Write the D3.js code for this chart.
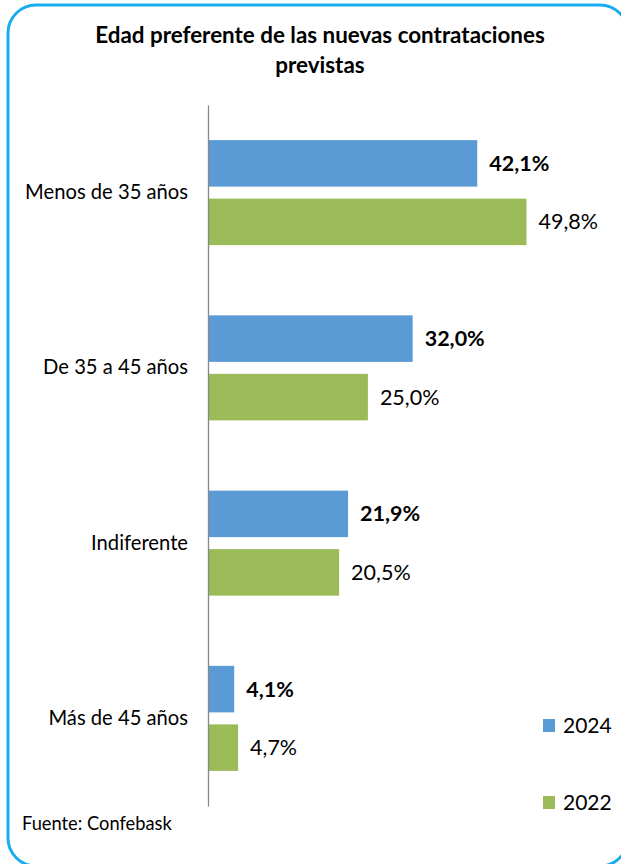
<!DOCTYPE html>
<html>
<head>
<meta charset="utf-8">
<script src="https://cdn.jsdelivr.net/npm/d3@7"></script>
<style>
  html, body { margin: 0; padding: 0; background: #fff; }
  svg { display: block; font-family: Lato, "Open Sans", sans-serif; }
</style>
</head>
<body>
<div id="chart"></div>
<script>
// Datos del gráfico
const categories = ['Menos de 35 años', 'De 35 a 45 años', 'Indiferente', 'Más de 45 años'];
const seriesNames = ['2024', '2022'];
const values2024 = [42.1, 32.0, 21.9, 4.1];
const values2022 = [49.8, 25.0, 20.5, 4.7];
const seriesColors = ['#5B9BD5', '#9BBB59'];

const width = 621, height = 864;
const svg = d3.select('#chart').append('svg')
    .attr('width', width)
    .attr('height', height);

// Marco redondeado (se sale por la derecha y por abajo)
svg.append('rect')
    .attr('x', 8).attr('y', 5)
    .attr('width', 620).attr('height', 861)
    .attr('rx', 28).attr('ry', 28)
    .attr('fill', 'none')
    .attr('stroke', '#1AADEE')
    .attr('stroke-width', 3);

// Título
const title = svg.append('text')
    .attr('x', 320)
    .attr('text-anchor', 'middle')
    .style('font-weight', 'bold')
    .style('font-size', '22.4px')
    .style('fill', '#000');
title.append('tspan').attr('x', 320).attr('y', 43).text('Edad preferente de las nuevas contrataciones');
title.append('tspan').attr('x', 320).attr('y', 73).text('previstas');

// Escalas
const axisX = 208;
const x = d3.scaleLinear().domain([0, 49.8]).range([axisX, 526.5]);
const y0 = d3.scaleBand().domain(categories).range([105, 806]);
const y1 = d3.scaleBand().domain(seriesNames)
    .range([0, y0.bandwidth()])
    .paddingInner(0.205)
    .paddingOuter(0.6);

const data = categories.map((c, i) => ({
    cat: c,
    vals: [
        { key: '2024', v: values2024[i] },
        { key: '2022', v: values2022[i] }
    ]
}));

const color = d3.scaleOrdinal().domain(seriesNames).range(seriesColors);

const groups = svg.selectAll('.grp')
    .data(data)
    .enter().append('g')
    .attr('class', 'grp')
    .attr('transform', d => `translate(0,${y0(d.cat)})`);

groups.selectAll('rect')
    .data(d => d.vals)
    .enter().append('rect')
    .attr('x', x(0))
    .attr('y', d => y1(d.key))
    .attr('width', d => x(d.v) - x(0))
    .attr('height', y1.bandwidth())
    .attr('fill', d => color(d.key));

groups.selectAll('.lbl')
    .data(d => d.vals)
    .enter().append('text')
    .attr('class', 'lbl')
    .attr('x', d => x(d.v) + 12)
    .attr('y', d => y1(d.key) + y1.bandwidth() / 2)
    .attr('dy', '0.35em')
    .style('font-size', '21.5px')
    .style('font-weight', d => d.key === '2024' ? 'bold' : 'normal')
    .style('fill', '#000')
    .text(d => d3.format('.1f')(d.v).replace('.', ',') + '%');

// Eje vertical
const yAxis = svg.append('g')
    .attr('transform', `translate(${axisX},0)`)
    .call(d3.axisLeft(y0).tickSize(0).tickPadding(20));
yAxis.select('.domain').attr('stroke', '#888').attr('stroke-width', 1.3);
yAxis.selectAll('text')
    .style('font-family', 'Lato, "Open Sans", sans-serif')
    .style('font-size', '20.2px')
    .style('fill', '#000');

// Leyenda
const legendY = [726, 803];
seriesNames.forEach((s, i) => {
    svg.append('rect')
        .attr('x', 543).attr('y', legendY[i] - 7)
        .attr('width', 12).attr('height', 13)
        .attr('fill', color(s));
    svg.append('text')
        .attr('x', 563).attr('y', legendY[i])
        .attr('dy', '0.35em')
        .style('font-size', '21px')
        .style('fill', '#000')
        .text(s);
});

// Fuente
svg.append('text')
    .attr('x', 22).attr('y', 830)
    .style('font-size', '18.3px')
    .style('fill', '#000')
    .text('Fuente: Confebask');
</script>
</body>
</html>
